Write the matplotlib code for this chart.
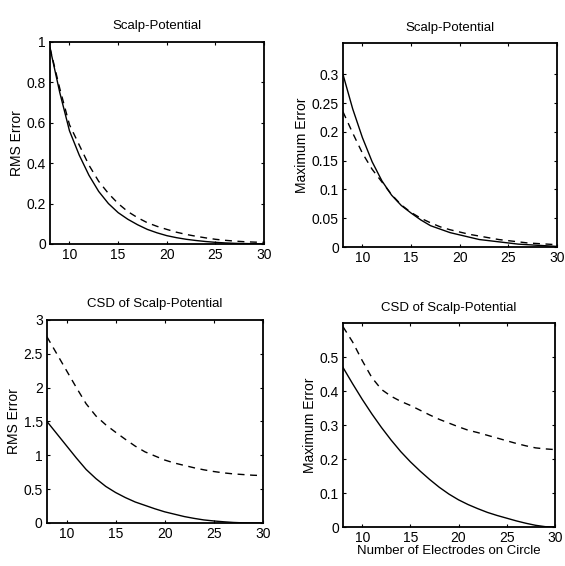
import matplotlib
matplotlib.use('Agg')
import matplotlib.pyplot as plt

plt.rcParams['font.family'] = ['Liberation Sans', 'DejaVu Sans']

# Number of electrodes on circle
electrodes = list(range(8, 31))

# Scalp-potential, RMS error
pot_rms_solid = [0.97, 0.75, 0.56, 0.44, 0.34, 0.26, 0.20, 0.155, 0.122, 0.095, 0.072,
                 0.055, 0.041, 0.031, 0.023, 0.017, 0.012, 0.008, 0.005, 0.003, 0.002,
                 0.001, 0.0]
pot_rms_dashed = [0.97, 0.77, 0.59, 0.49, 0.39, 0.31, 0.25, 0.20, 0.16, 0.13, 0.105,
                  0.087, 0.072, 0.058, 0.047, 0.038, 0.03, 0.023, 0.018, 0.014, 0.011,
                  0.009, 0.008]

# Scalp-potential, maximum error
pot_max_solid = [0.30, 0.24, 0.19, 0.148, 0.115, 0.09, 0.072, 0.059, 0.047, 0.037,
                 0.031, 0.025, 0.021, 0.017, 0.013, 0.011, 0.009, 0.007, 0.005, 0.004,
                 0.003, 0.002, 0.001]
pot_max_dashed = [0.235, 0.198, 0.163, 0.135, 0.113, 0.091, 0.073, 0.06, 0.05, 0.042,
                  0.035, 0.03, 0.026, 0.022, 0.019, 0.016, 0.013, 0.011, 0.009, 0.007,
                  0.006, 0.005, 0.004]

# CSD of scalp-potential, RMS error
csd_rms_solid = [1.5, 1.32, 1.14, 0.96, 0.79, 0.655, 0.54, 0.45, 0.375, 0.31, 0.26,
                 0.21, 0.165, 0.13, 0.095, 0.068, 0.045, 0.03, 0.018, 0.008, 0.002,
                 0.0, 0.0]
csd_rms_dashed = [2.75, 2.5, 2.25, 2.0, 1.76, 1.58, 1.45, 1.34, 1.235, 1.135, 1.05,
                  0.99, 0.93, 0.885, 0.85, 0.815, 0.785, 0.76, 0.74, 0.725, 0.715,
                  0.705, 0.7]

# CSD of scalp-potential, maximum error
csd_max_solid = [0.47, 0.422, 0.376, 0.333, 0.293, 0.256, 0.222, 0.192, 0.165, 0.14,
                 0.117, 0.097, 0.08, 0.066, 0.054, 0.043, 0.034, 0.026, 0.018, 0.011,
                 0.005, 0.001, 0.0]
csd_max_dashed = [0.59, 0.545, 0.49, 0.44, 0.405, 0.385, 0.37, 0.358, 0.344, 0.33,
                  0.317, 0.306, 0.295, 0.285, 0.278, 0.27, 0.262, 0.254, 0.246, 0.239,
                  0.233, 0.23, 0.228]

PANELS = [
    # (rect, solid, dashed, title, ylabel, ytop, yticks, yticklabels)
    ([0.0885, 0.569, 0.379, 0.357], pot_rms_solid, pot_rms_dashed,
     'Scalp-Potential', 'RMS Error', 1.0,
     [0, 0.2, 0.4, 0.6, 0.8, 1], ['0', '0.2', '0.4', '0.6', '0.8', '1']),
    ([0.607, 0.5636, 0.379, 0.360], pot_max_solid, pot_max_dashed,
     'Scalp-Potential', 'Maximum Error', 0.354,
     [0, 0.05, 0.1, 0.15, 0.2, 0.25, 0.3],
     ['0', '0.05', '0.1', '0.15', '0.2', '0.25', '0.3']),
    ([0.083, 0.076, 0.382, 0.359], csd_rms_solid, csd_rms_dashed,
     'CSD of Scalp-Potential', 'RMS Error', 3.0,
     [0, 0.5, 1, 1.5, 2, 2.5, 3], ['0', '0.5', '1', '1.5', '2', '2.5', '3']),
    ([0.607, 0.0689, 0.375, 0.360], csd_max_solid, csd_max_dashed,
     'CSD of Scalp-Potential', 'Maximum Error', 0.6,
     [0, 0.1, 0.2, 0.3, 0.4, 0.5], ['0', '0.1', '0.2', '0.3', '0.4', '0.5']),
]

fig = plt.figure(figsize=(5.65, 5.66), dpi=100)

for i, (rect, solid, dashed, title, ylabel, ytop, yt, ytl) in enumerate(PANELS):
    ax = fig.add_axes(rect)
    ax.plot(electrodes, solid, color='black', linewidth=1.0)
    ax.plot(electrodes, dashed, color='black', linewidth=1.0, linestyle=(0, (5, 4)))
    ax.set_xlim(8, 30)
    ax.set_ylim(0, ytop)
    ax.set_xticks([10, 15, 20, 25, 30])
    ax.set_yticks(yt)
    ax.set_yticklabels(ytl)
    ax.tick_params(direction='in', top=True, right=True, length=2, width=0.8,
                   labelsize=10, pad=3)
    for sp in ax.spines.values():
        sp.set_linewidth(1.3)
    ax.set_title(title, fontsize=9.5, pad=9)
    ax.set_ylabel(ylabel, fontsize=10, labelpad=2)
    if i == 3:
        ax.set_xlabel('Number of Electrodes on Circle', fontsize=9.5, labelpad=0)

fig.savefig('out.png', dpi=100)
